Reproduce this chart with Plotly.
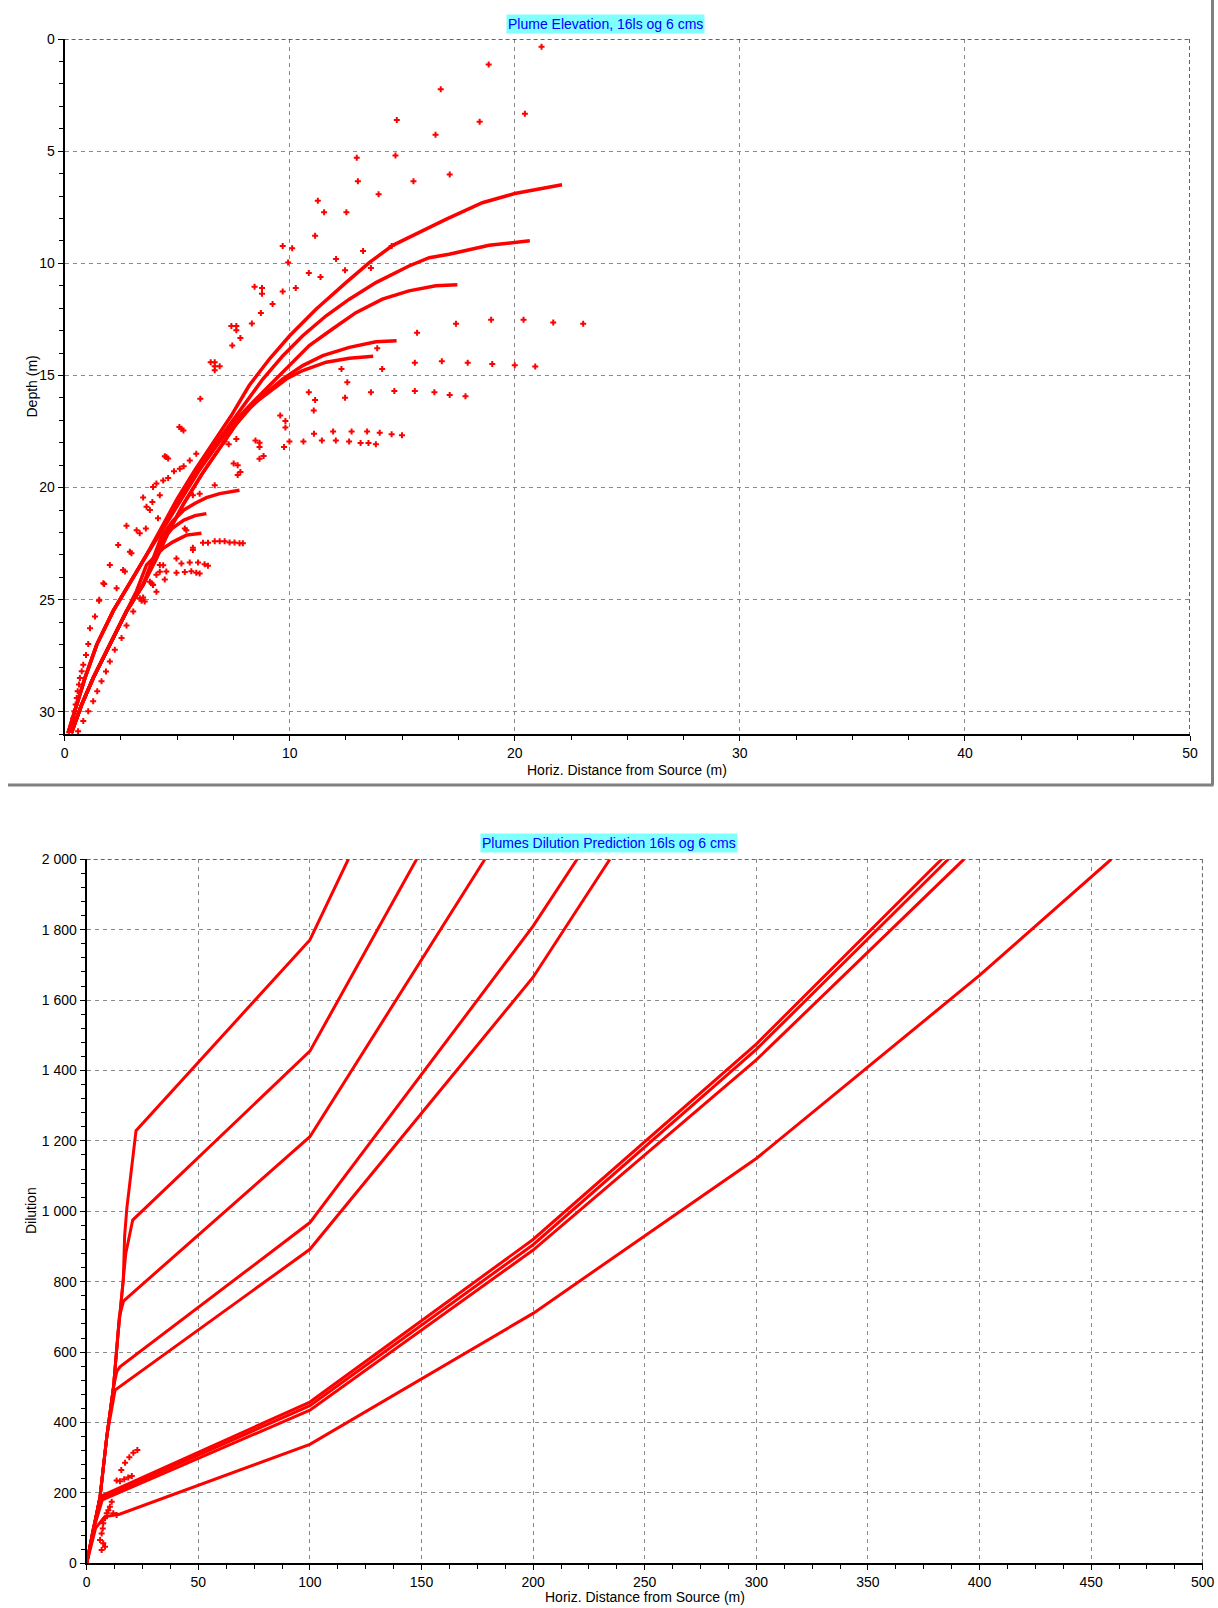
import plotly.graph_objects as go

# ---------------- Top chart: Plume Elevation ----------------
c1_x = [0.15, 0.5, 0.9, 1.43, 2.16, 3.05, 3.64, 4.3, 5.0, 5.8, 6.6, 7.4, 8.2, 9.1, 10.0, 11.17, 12.5, 13.55, 14.58, 15.32, 16.94, 18.56, 20.0, 22.1]
c1_y = [30.95, 29.8, 28.5, 27.0, 25.5, 24.0, 23.0, 21.8, 20.5, 19.2, 18.0, 16.8, 15.45, 14.27, 13.23, 12.05, 10.86, 9.96, 9.2, 8.84, 8.04, 7.3, 6.89, 6.5]
c2_x = [0.15, 0.5, 0.9, 1.43, 2.16, 3.05, 3.64, 4.35, 5.1, 5.9, 6.75, 7.55, 8.3, 8.81, 9.7, 10.58, 11.62, 12.65, 13.83, 15.3, 16.2, 17.08, 18.86, 20.67]
c2_y = [30.95, 29.8, 28.5, 27.0, 25.5, 24.0, 23.0, 21.8, 20.5, 19.2, 18.0, 16.9, 15.9, 15.16, 14.12, 13.23, 12.34, 11.6, 10.86, 10.12, 9.75, 9.6, 9.2, 8.99]
c3_x = [0.15, 0.5, 0.9, 1.43, 2.16, 3.05, 3.64, 4.4, 5.2, 6.0, 6.85, 7.7, 8.22, 9.1, 9.99, 10.87, 11.9, 12.94, 14.12, 15.3, 16.49, 17.45]
c3_y = [30.95, 29.8, 28.5, 27.0, 25.5, 24.0, 23.0, 21.8, 20.5, 19.2, 18.0, 16.9, 16.34, 15.45, 14.56, 13.67, 12.93, 12.2, 11.6, 11.23, 11.0, 10.96]
c4_x = [0.3, 0.75, 1.27, 2.01, 2.75, 3.49, 4.08, 4.6, 5.3, 6.1, 6.9, 7.6, 8.2, 8.81, 9.7, 10.58, 11.47, 12.65, 13.83, 14.75]
c4_y = [30.95, 29.7, 28.49, 27.0, 25.52, 24.33, 23.15, 22.0, 20.7, 19.4, 18.2, 17.2, 16.5, 15.9, 15.16, 14.56, 14.12, 13.75, 13.5, 13.45]
c5_x = [0.3, 0.75, 1.27, 2.01, 2.75, 3.49, 4.08, 4.6, 5.3, 6.1, 6.9, 7.6, 8.22, 8.96, 9.85, 10.58, 11.62, 12.65, 13.71]
c5_y = [30.95, 29.7, 28.49, 27.0, 25.52, 24.33, 23.15, 22.0, 20.7, 19.4, 18.2, 17.2, 16.4, 15.82, 15.16, 14.78, 14.41, 14.23, 14.15]
c6_x = [0.3, 0.75, 1.27, 2.01, 2.75, 3.49, 3.9, 4.3, 4.8, 5.3, 5.8, 6.3, 6.89, 7.77]
c6_y = [30.95, 29.7, 28.49, 27.0, 25.52, 24.33, 23.2, 22.2, 21.5, 21.0, 20.7, 20.45, 20.27, 20.12]
c7_x = [0.3, 0.75, 1.27, 2.01, 2.75, 3.49, 3.9, 4.3, 4.8, 5.3, 5.8, 6.3]
c7_y = [30.95, 29.7, 28.49, 27.0, 25.52, 24.33, 23.3, 22.4, 21.8, 21.45, 21.25, 21.16]
c8_x = [0.3, 0.75, 1.27, 2.01, 2.75, 3.2, 3.64, 4.01, 4.38, 4.82, 5.41, 6.08]
c8_y = [30.95, 29.7, 28.49, 27.0, 25.52, 24.6, 23.45, 23.08, 22.71, 22.42, 22.12, 22.04]

pts_top_x = [21.19, 18.84, 16.71, 20.45, 14.76, 18.44, 16.48, 12.98, 14.70, 17.11, 13.03, 15.50, 13.95, 11.25, 11.53, 12.52,
             11.13, 9.69, 10.11, 13.26, 14.53, 9.93, 12.06, 13.61, 12.46, 10.85, 11.37, 8.44, 8.77, 10.27, 8.77, 9.69,
             9.24, 8.72, 8.32, 7.41, 7.63, 7.63, 7.81, 7.45, 6.49, 6.67, 6.67, 6.89, 6.67, 6.03,
             17.39, 18.95, 20.39, 21.71, 23.04, 15.66, 13.89, 12.30, 14.11, 15.56, 16.76, 17.91, 19.00, 20.00, 20.91,
             12.56, 12.46, 10.85, 11.13, 11.07, 13.61, 14.65, 15.56, 16.43, 17.11, 17.81, 9.58, 9.81, 9.81,
             8.48, 8.66, 8.66, 8.66, 8.84, 7.11, 7.29, 7.63, 9.75, 9.99, 10.61, 11.08, 11.43, 11.93, 12.05, 12.64,
             12.75, 13.15, 13.44, 13.50, 13.83, 14.00, 14.53, 14.99, 7.51, 7.69, 7.81, 7.69,
             5.19, 5.10, 5.28, 4.52, 4.45, 4.60, 4.86, 5.12, 5.29, 5.56, 5.85, 4.08, 3.93, 4.38, 4.60, 4.23, 3.49,
             3.64, 3.79, 3.90, 4.15, 3.20, 3.34, 2.75, 3.61, 2.38, 2.90, 2.97, 2.01, 2.60, 2.68, 1.72, 2.31, 1.54,
             3.34, 3.42, 3.79, 3.93, 4.08, 3.05, 1.35, 4.23, 4.52, 4.08, 4.97, 5.19, 5.56, 5.93, 6.22, 6.37,
             4.97, 5.34, 5.63, 5.85, 6.00, 5.70, 5.70, 5.34, 5.41, 6.15, 6.37, 6.67, 6.89, 7.11, 7.33, 7.55, 7.77,
             7.92, 5.70, 6.00, 6.67,
             1.76, 1.53, 1.13, 1.05, 0.95, 0.83, 0.76, 0.68, 0.64, 0.58, 0.54, 0.49, 0.43, 0.39, 0.34,
             2.75, 2.53, 2.23, 2.01, 1.84, 1.64, 1.45, 1.27, 1.05, 0.83, 0.60,
             3.49, 3.56, 3.86, 3.93, 4.45, 4.23, 4.38]
pts_top_y = [0.34, 1.14, 2.24, 3.33, 3.61, 3.69, 4.27, 5.30, 5.19, 6.04, 6.34, 6.34, 6.92, 7.21, 7.72, 7.72,
             8.77, 9.23, 9.33, 9.45, 9.23, 9.97, 9.81, 10.21, 10.31, 10.43, 10.61, 11.05, 11.10, 11.10, 11.36, 11.26,
             11.82, 12.22, 12.68, 12.80, 12.80, 12.99, 13.33, 13.67, 14.41, 14.41, 14.59, 14.59, 14.77, 16.04,
             12.70, 12.52, 12.52, 12.64, 12.70, 13.10, 13.79, 14.71, 14.71, 14.43, 14.37, 14.43, 14.49, 14.55, 14.60,
             15.30, 15.99, 15.75, 16.10, 16.56, 15.75, 15.69, 15.69, 15.75, 15.87, 15.93, 16.79, 17.03, 17.32,
             17.90, 18.00, 18.19, 18.71, 18.59, 17.95, 18.07, 17.83, 18.19, 17.95, 17.95, 17.60, 17.90, 17.50, 17.90, 17.95,
             17.50, 18.01, 17.50, 18.01, 18.07, 17.56, 17.62, 17.67, 18.93, 19.00, 19.30, 19.44,
             17.38, 17.30, 17.45, 18.64, 18.60, 18.70, 19.27, 19.16, 19.05, 18.79, 18.49, 19.82, 19.97, 19.68, 19.57, 20.34, 20.44,
             20.85, 21.00, 20.64, 21.37, 21.90, 22.04, 21.70, 21.82, 22.56, 22.86, 22.93, 23.45, 23.67, 23.74, 24.27, 24.49, 25.00,
             24.93, 25.05, 24.20, 24.34, 24.64, 25.53, 25.75, 23.45, 23.74, 23.89, 23.16, 23.38, 23.34, 23.34, 23.42, 23.48,
             23.80, 23.76, 23.73, 23.80, 23.83, 22.68, 22.78, 21.82, 21.90, 22.46, 22.46, 22.39, 22.39, 22.39, 22.45, 22.45, 22.48,
             22.48, 20.34, 20.27, 19.90,
             24.30, 25.05, 26.27, 26.97, 27.46, 27.90, 28.19, 28.49, 28.78, 29.08, 29.38, 29.67, 29.97, 30.27, 30.56,
             26.15, 26.71, 27.23, 27.75, 28.20, 28.64, 29.08, 29.53, 29.97, 30.41, 30.86,
             24.90, 25.08, 24.26, 24.33, 24.10, 23.75, 23.46]

# ---------------- Bottom chart: Dilution ----------------
dA_x = [0, 6, 9, 12, 14.2, 16.4, 17.0, 18.0, 22.1, 100, 117.2]
dA_y = [0, 190, 360, 500, 663, 805, 930, 1010, 1229, 1771, 2000]
dB_x = [0, 6, 9, 12, 14.2, 16.4, 17.5, 20.6, 100, 147.8]
dB_y = [0, 190, 360, 500, 663, 805, 880, 975, 1455, 2000]
dC_x = [0, 6, 9, 12, 14.6, 16.5, 18.6, 100, 178.4]
dC_y = [0, 190, 360, 500, 700, 745, 757, 1212, 2000]
dD_x = [0, 6, 9, 12, 13.5, 14.9, 100, 200, 219.7]
dD_y = [0, 190, 360, 500, 545, 558, 968, 1810, 2000]
dE_x = [0, 6, 9, 12.7, 100, 200, 234.4]
dE_y = [0, 190, 360, 492, 892, 1665, 2000]
dF_x = [0, 3, 6.2, 100, 200, 300, 383]
dF_y = [0, 100, 190, 458, 920, 1475, 2000]
dG_x = [0, 3, 6.5, 100, 200, 300, 386]
dG_y = [0, 100, 185, 448, 905, 1460, 2000]
dH_x = [0, 3, 7.0, 100, 200, 300, 393]
dH_y = [0, 95, 180, 435, 890, 1430, 2000]
dI_x = [0, 4, 8, 13, 15, 100, 200, 300, 400, 459]
dI_y = [0, 100, 132, 138, 140, 338, 710, 1150, 1670, 2000]

pts_dil_x = [22.7, 20.9, 19.1, 17.2, 15.5, 20.2, 18.6, 16.8, 14.9, 13.4, 11.2, 10.4, 9.7, 9.0, 8.2, 7.4, 7.2,
             6.7, 6.0, 7.4, 8.2, 6.7, 11.9, 13.4]
pts_dil_y = [322, 314, 301, 286, 265, 248, 244, 239, 233, 235, 175, 161, 151, 142, 128, 114, 99,
             85, 66, 57, 47, 38, 142, 137]

RED = "#FF0000"
FONT = "Liberation Sans, Arial, sans-serif"
FS = 14

fig = go.Figure()

for xs, ys in [(c1_x, c1_y), (c2_x, c2_y), (c3_x, c3_y), (c4_x, c4_y), (c5_x, c5_y),
               (c6_x, c6_y), (c7_x, c7_y), (c8_x, c8_y)]:
    fig.add_trace(go.Scatter(x=xs, y=ys, mode="lines", line=dict(color=RED, width=3.5),
                             xaxis="x", yaxis="y", showlegend=False, hoverinfo="skip"))
fig.add_trace(go.Scatter(x=pts_top_x, y=pts_top_y, mode="markers",
                         marker=dict(symbol="cross", size=5, color=RED, line=dict(width=0)),
                         xaxis="x", yaxis="y", showlegend=False, hoverinfo="skip"))

for xs, ys in [(dA_x, dA_y), (dB_x, dB_y), (dC_x, dC_y), (dD_x, dD_y), (dE_x, dE_y),
               (dF_x, dF_y), (dG_x, dG_y), (dH_x, dH_y), (dI_x, dI_y)]:
    fig.add_trace(go.Scatter(x=xs, y=ys, mode="lines", line=dict(color=RED, width=3),
                             xaxis="x2", yaxis="y2", showlegend=False, hoverinfo="skip"))
fig.add_trace(go.Scatter(x=pts_dil_x, y=pts_dil_y, mode="markers",
                         marker=dict(symbol="cross", size=5, color=RED, line=dict(width=0)),
                         xaxis="x2", yaxis="y2", showlegend=False, hoverinfo="skip"))

W, H = 1218, 1608

def px_x(p):
    return p / W

def px_y(p):
    return 1 - p / H

grid = dict(showgrid=True, gridcolor="#8a8a8a", gridwidth=1, griddash="4px,4px",
            zeroline=False, showline=True, linecolor="black", linewidth=2, automargin=False,
            ticks="outside", ticklen=5, tickcolor="black", tickwidth=1,
            tickfont=dict(family=FONT, size=FS, color="black"))

fig.update_layout(
    template="none",
    width=W, height=H,
    margin=dict(l=0, r=0, t=0, b=0, autoexpand=False),
    paper_bgcolor="white", plot_bgcolor="white",
    separators=", ",
    hovermode=False,
    font=dict(family=FONT, size=FS, color="black"),
    xaxis=dict(domain=[px_x(64.6), px_x(1190)], anchor="y", range=[0, 50], dtick=10, tick0=0,
               minor=dict(dtick=2.5, ticks="outside", ticklen=4, tickcolor="black", showgrid=False), **grid),
    yaxis=dict(domain=[px_y(734.3), px_y(39)], anchor="x", range=[31, 0], dtick=5, tick0=0,
               minor=dict(dtick=1, ticks="outside", ticklen=4, tickcolor="black", showgrid=False), **grid),
    xaxis2=dict(domain=[px_x(86.7), px_x(1202.7)], anchor="y2", range=[0, 500], dtick=50, tick0=0,
                minor=dict(dtick=12.5, ticks="outside", ticklen=4, tickcolor="black", showgrid=False), **grid),
    yaxis2=dict(domain=[px_y(1563.3), px_y(859.3)], anchor="x2", range=[0, 2000], dtick=200, tick0=0,
                separatethousands=True,
                minor=dict(dtick=40, ticks="outside", ticklen=4, tickcolor="black", showgrid=False), **grid),
)

border = dict(color="#303030", width=1.5, dash="4px,3px")
fig.add_shape(type="line", xref="x", yref="y", x0=0, x1=50, y0=0, y1=0, line=border)
fig.add_shape(type="line", xref="x", yref="y", x0=50, x1=50, y0=0, y1=31, line=border)
fig.add_shape(type="line", xref="x2", yref="y2", x0=0, x1=500, y0=2000, y1=2000, line=border)
fig.add_shape(type="line", xref="x2", yref="y2", x0=500, x1=500, y0=0, y1=2000, line=border)

frame = dict(color="#808080", width=3)
fig.add_shape(type="line", xref="paper", yref="paper", x0=px_x(1212.5), x1=px_x(1212.5),
              y0=1, y1=px_y(785), line=frame)
fig.add_shape(type="line", xref="paper", yref="paper", x0=px_x(8), x1=px_x(1213.5),
              y0=px_y(785), y1=px_y(785), line=frame)

def ann(text, x, y, angle=0, **kw):
    fig.add_annotation(text=text, x=x, y=y, xref="paper", yref="paper", showarrow=False,
                       xanchor="center", yanchor="middle", textangle=angle,
                       font=dict(family=FONT, size=FS, color=kw.pop("color", "black")), **kw)

ann("Plume Elevation, 16ls og 6 cms", px_x(605), px_y(23.6), color="#0000FF", bgcolor="#80FFFF", borderpad=1)
ann("Plumes Dilution Prediction 16ls og 6 cms", px_x(609), px_y(843), color="#0000FF", bgcolor="#80FFFF", borderpad=1)
ann("Horiz. Distance from Source (m)", px_x(627), px_y(770))
ann("Horiz. Distance from Source (m)", px_x(644.7), px_y(1597))
ann("Depth (m)", px_x(31), px_y(386.5), angle=-90)
ann("Dilution", px_x(31), px_y(1211), angle=-90)

# remove the default 8px page margin so the figure fills the window exactly
fig.write_html("out.html",
               config={"displayModeBar": False, "staticPlot": True},
               post_script="document.body.style.margin='0px';document.body.style.overflow='hidden';")
